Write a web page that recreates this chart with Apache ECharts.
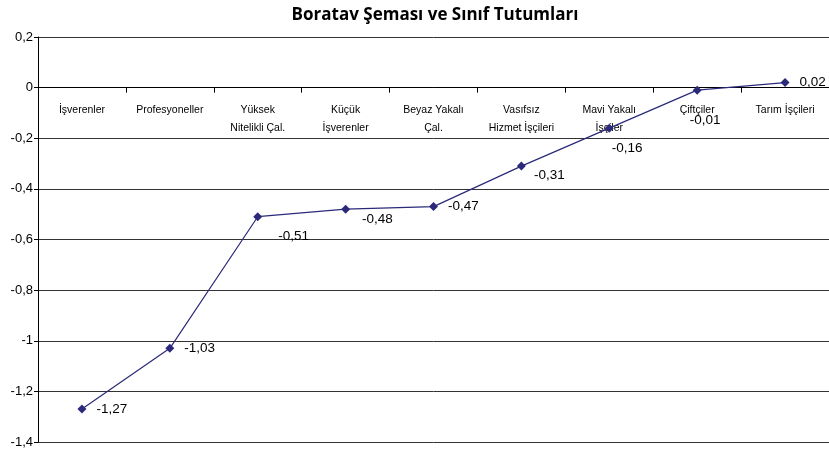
<!DOCTYPE html>
<html><head><meta charset="utf-8">
<script src="https://cdn.jsdelivr.net/npm/echarts@6/dist/echarts.min.js"></script>
<style>html,body{margin:0;padding:0;background:#fff}#c{width:829px;height:453px}</style>
</head><body><div id="c"></div>
<script>
const categories = ["İşverenler","Profesyoneller","Yüksek\nNitelikli Çal.","Küçük\nİşverenler","Beyaz Yakalı\nÇal.","Vasıfsız\nHizmet İşçileri","Mavi Yakalı\nİşçiler","Çiftçiler","Tarım İşçileri"];
const values = [-1.27,-1.03,-0.51,-0.48,-0.47,-0.31,-0.16,-0.01,0.02];
const yTicks = {min:-1.4, max:0.2, interval:0.2};
// label placement per point (style only)
const labelOffsets = [[8,0],[8,0],[14,20],[10,10],[8,0],[6,9],[-4,20],[-14,30],[8,0]];

const gridTop = 37, gridBottom = 11, H = 453;
const plotH = H - gridTop - gridBottom;
const zeroOffset = -plotH * (0 - yTicks.min) / (yTicks.max - yTicks.min);

const chart = echarts.init(document.getElementById('c'));
const fmt = v => String(Math.round(v*100)/100).replace('.',',');
chart.setOption({
  animation:false,
  title:{text:'Boratav Şeması ve Sınıf Tutumları',left:430,textAlign:'center',top:2,
    textStyle:{fontFamily:'Open Sans',fontWeight:'bold',fontSize:17,color:'#000'}},
  grid:{left:38,right:0,top:gridTop,bottom:gridBottom,outerBoundsMode:'none',containLabel:false},
  xAxis:{type:'category',data:categories,boundaryGap:true,position:'bottom',offset:zeroOffset,
    axisLine:{onZero:false,lineStyle:{color:'#000',width:1}},
    axisTick:{show:true,length:5,lineStyle:{color:'#000'}},
    axisLabel:{interval:0,margin:13,fontFamily:'Liberation Sans Narrow, Arial Narrow, sans-serif',fontSize:10.5,color:'#000',lineHeight:18}},
  yAxis:{type:'value',min:yTicks.min,max:yTicks.max,interval:yTicks.interval,
    axisLine:{show:true,lineStyle:{color:'#000'}},
    axisTick:{show:true,length:4,lineStyle:{color:'#000'}},
    splitLine:{lineStyle:{color:'#333',width:1}},
    axisLabel:{fontFamily:'Liberation Sans, Arial, sans-serif',fontSize:13,color:'#000',margin:5,
      formatter:v=>fmt(v)}},
  series:[{type:'line',data:values.map((v,i)=>({value:v,label:{offset:labelOffsets[i]}})),
    symbol:'diamond',symbolSize:9,
    lineStyle:{color:'#2b2a7a',width:1.2},
    itemStyle:{color:'#2b2a7a'},
    label:{show:true,position:'right',distance:2,fontFamily:'Liberation Sans, Arial, sans-serif',fontSize:13.5,color:'#000',
      formatter:p=>fmt(p.value)}}]
});
</script></body></html>
